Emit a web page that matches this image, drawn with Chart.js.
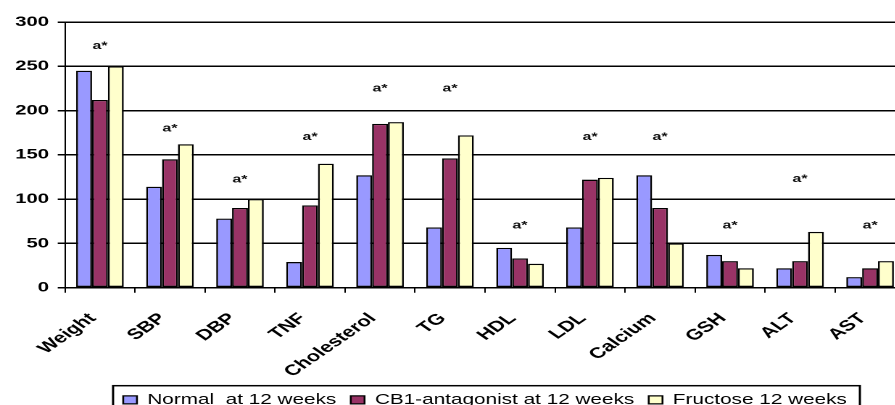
<!DOCTYPE html>
<html>
<head>
<meta charset="utf-8">
<script src="https://cdn.jsdelivr.net/npm/chart.js@4/dist/chart.umd.min.js"></script>
<style>
  html, body { margin: 0; padding: 0; background: #fff; overflow: hidden; width: 895px; height: 405px; }
  /* the source picture was stretched sideways, so the canvas is too */
  #wrap { transform: scaleX(1.45); transform-origin: 0 0; width: 630px; height: 420px; }
</style>
</head>
<body>
<div id="wrap"><canvas id="chart" width="630" height="420"></canvas></div>
<script>
const categories = ['Weight', 'SBP', 'DBP', 'TNF', 'Cholesterol', 'TG', 'HDL', 'LDL', 'Calcium', 'GSH', 'ALT', 'AST'];
const normal = [245, 114, 78, 29, 127, 68, 45, 68, 127, 37, 22, 12];
const cb1 = [212, 145, 90, 93, 185, 146, 33, 122, 90, 30, 30, 22];
const fructose = [250, 162, 100, 140, 187, 172, 27, 124, 50, 22, 63, 30];
// height of the "a*" marks above each group
const sigLevel = [273, 180, 122, 170, 225, 225, 70, 170, 170, 70, 123, 70];
const sigText = 'a*';
const yTicks = [0, 50, 100, 150, 200, 250, 300];

const sigMarks = {
    id: 'sigMarks',
    afterDatasetsDraw(chart) {
        const ctx = chart.ctx;
        const x = chart.scales.x;
        const y = chart.scales.y;
        ctx.save();
        ctx.fillStyle = '#111';
        ctx.font = 'bold 11px "Liberation Sans", Arial';
        ctx.textAlign = 'center';
        ctx.textBaseline = 'middle';
        for (let i = 0; i < categories.length; i++) {
            ctx.fillText(sigText, x.getPixelForValue(i), y.getPixelForValue(sigLevel[i]));
        }
        ctx.restore();
    }
};

const legendFrame = {
    id: 'legendFrame',
    afterDraw(chart) {
        const boxes = chart.legend.legendHitBoxes;
        if (!boxes || !boxes.length) return;
        const ctx = chart.ctx;
        const left = boxes[0].left - 7;
        const last = boxes[boxes.length - 1];
        const right = last.left + last.width + 9;
        const top = boxes[0].top - 7;
        ctx.save();
        ctx.strokeStyle = '#000';
        ctx.lineWidth = 1.5;
        ctx.strokeRect(left, top, right - left, 60);
        ctx.restore();
    }
};

new Chart(document.getElementById('chart'), {
    type: 'bar',
    data: {
        labels: categories,
        datasets: [
            { label: 'Normal  at 12 weeks', data: normal, backgroundColor: '#9999FF' },
            { label: 'CB1-antagonist at 12 weeks', data: cb1, backgroundColor: '#993366' },
            { label: 'Fructose 12 weeks', data: fructose, backgroundColor: '#FFFFCC' }
        ]
    },
    options: {
        responsive: false,
        animation: false,
        devicePixelRatio: 2,
        layout: { padding: { left: 4, right: 5.6, top: 22, bottom: 3 } },
        datasets: {
            bar: {
                borderColor: '#000',
                borderWidth: 1.3,
                borderSkipped: false,
                categoryPercentage: 0.68,
                barPercentage: 1.0
            }
        },
        plugins: {
            legend: {
                position: 'bottom',
                fullSize: false,
                labels: {
                    color: '#000',
                    font: { family: '"Liberation Sans", Arial', size: 14.3 },
                    boxWidth: 9.5,
                    boxHeight: 8,
                    padding: 10
                }
            },
            tooltip: { enabled: false }
        },
        scales: {
            x: {
                grid: { drawOnChartArea: false, drawTicks: true, tickLength: 5, color: '#000', lineWidth: 1 },
                border: { color: '#000', width: 1.5 },
                ticks: {
                    color: '#000',
                    font: { family: '"Liberation Sans", Arial', size: 15, weight: 'bold' },
                    minRotation: 45,
                    maxRotation: 45,
                    padding: 17,
                    labelOffset: -5
                },
                afterFit(scale) { scale.height = 95; }
            },
            y: {
                min: 0,
                max: 300,
                afterBuildTicks(scale) { scale.ticks = yTicks.map(v => ({ value: v })); },
                grid: { color: '#000', lineWidth: 1.5, tickLength: 5 },
                border: { color: '#000', width: 1 },
                ticks: {
                    color: '#000',
                    font: { family: '"Liberation Sans", Arial', size: 14, weight: 'bold' },
                    padding: 6
                },
                afterFit(scale) { scale.width = 40.8; }
            }
        }
    },
    plugins: [sigMarks, legendFrame]
});
</script>
</body>
</html>
